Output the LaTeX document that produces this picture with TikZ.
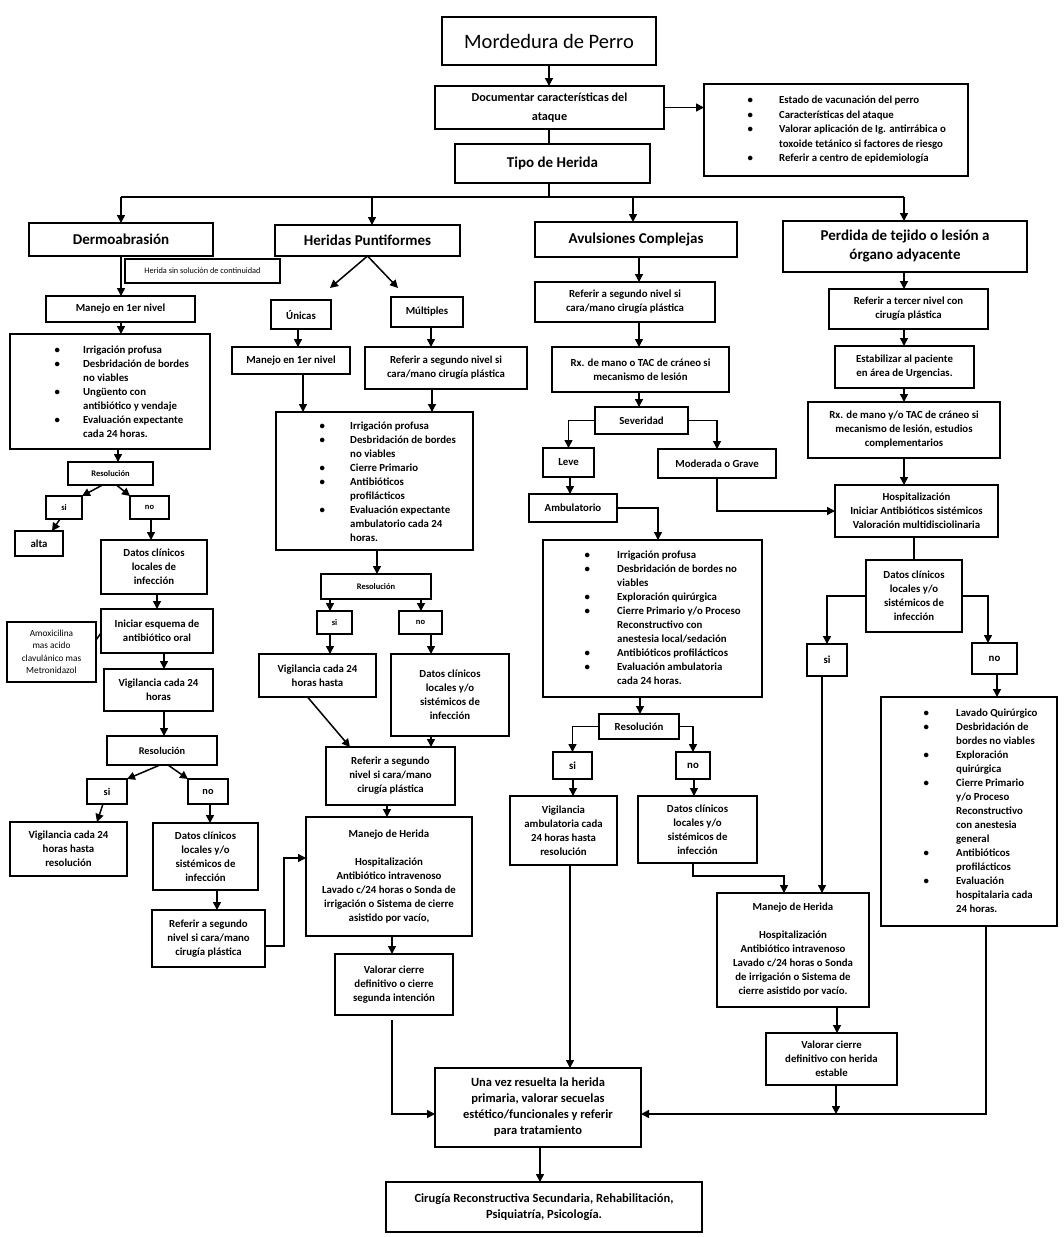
\documentclass[tikz,border=0pt]{standalone}
\usepackage{fontspec}
\setmainfont{Carlito}
\usetikzlibrary{arrows.meta}
\newcommand\fBody{\fontsize{10.8}{14}\selectfont\bfseries}
\newcommand\fHead{\fontsize{15}{19}\selectfont\bfseries}
\newcommand\fSmall{\fontsize{8.5}{11}\selectfont\bfseries}
\newcommand\fMid{\fontsize{10.3}{13}\selectfont\bfseries}
\newcommand\fTitle{\fontsize{20.5}{24}\selectfont}
\newcommand\fDoc{\fontsize{12.2}{19}\selectfont\bfseries}
\newcommand\fUna{\fontsize{12.5}{16}\selectfont\bfseries}
\newcommand\fInfo{\fontsize{10.8}{14.5}\selectfont\bfseries}
\newcommand\fTiny{\fontsize{8.3}{10}\selectfont}
\newcommand\fAmox{\fontsize{9.3}{12.5}\selectfont}
\newcommand\fFinal{\fontsize{12.5}{15.5}\selectfont\bfseries}
\newcommand\bItem[2]{\makebox[#1][l]{\textbullet}#2}
\newcommand\bCont[2]{\hspace*{#1}#2}
\newcommand\bx[7][]{\pgfmathsetmacro\bxw{#5-#3}\pgfmathsetmacro\bxh{#6-#4}%
  \node[box,#1,minimum width=\bxw pt,minimum height=\bxh pt] (#2) at ({(#3+#5)/2},{(#4+#6)/2}) {#7};}
\newcommand\vd[4][arr]{\coordinate (tx) at (#4,0); \draw[#1] (#2.south -| tx) -- (#3.north -| tx);}
\begin{document}
\begin{tikzpicture}[x=1pt,y=-1pt,
  box/.style={draw, line width=1.6pt, fill=white, inner sep=0pt, outer sep=0pt, align=center, font=\fBody},
  bl/.style={inner sep=0pt, align=left, font=\fBody, anchor=west},
  arr/.style={line width=1.5pt, -{Triangle[length=8pt,width=8pt]}},
  ln/.style={line width=1.5pt}]
\fill[white] (0,0) rectangle (1064,1237);
\useasboundingbox (0,0) rectangle (1064,1237);

% ---------- top ----------
\bx[font=\fTitle]{title}{442}{17}{656}{65}{Mordedura de Perro}
\bx[font=\fDoc]{doc}{435}{86}{664}{129}{Documentar características del\\ataque}
\bx{info}{704}{84}{968}{176}{}
\node[bl,font=\fInfo] (infot) at (747.5,130) {\bItem{31.5pt}{Estado de vacunación del perro}\\
\bItem{31.5pt}{Características del ataque}\\
\bItem{31.5pt}{Valorar aplicación de Ig. antirrábica o}\\
\bCont{31.5pt}{toxoide tetánico si factores de riesgo}\\
\bItem{31.5pt}{Referir a centro de epidemiología}};
\bx[font=\fHead]{tipo}{455}{144}{650}{183}{Tipo de Herida}

% ---------- column 1 ----------
\bx[font=\fHead]{dermo}{29}{223}{213}{256}{Dermoabrasión}
\bx[font=\fTiny]{hsin}{125}{259}{280}{283}{Herida sin solución de continuidad}
\bx{man1}{46}{296}{195}{322}{Manejo en 1er nivel}
\bx{b1}{10}{334}{210}{449}{}
\node[bl] (b1t) at (54.5,391.5) {\bItem{28.5pt}{Irrigación profusa}\\
\bItem{28.5pt}{Desbridación de bordes}\\
\bCont{28.5pt}{no viables}\\
\bItem{28.5pt}{Ungüento con}\\
\bCont{28.5pt}{antibiótico y vendaje}\\
\bItem{28.5pt}{Evaluación expectante}\\
\bCont{28.5pt}{cada 24 horas.}};
\bx[font=\fSmall]{res1}{68}{462}{153}{485}{Resolución}
\bx[font=\fSmall]{si1}{46}{496}{82}{519}{si}
\bx[font=\fSmall]{no1}{130}{496}{169}{519}{no}
\bx{alta}{15}{531}{63}{556}{alta}
\bx{dat1}{101}{540}{207}{594}{Datos clínicos\\locales de\\infección}
\bx{ini1}{101}{609}{213}{653}{Iniciar esquema de\\antibiótico oral}
\bx[font=\fAmox]{amox}{7}{622}{96}{682}{Amoxicilina\\mas acido\\clavulánico mas\\Metronidazol}
\bx{vig1}{104}{669}{213}{711}{Vigilancia cada 24\\horas}
\bx[font=\fMid]{res2}{107}{736}{217}{765}{Resolución}
\bx[font=\fMid]{si2}{87}{779}{127}{804}{si}
\bx[font=\fMid]{no2}{188}{779}{228}{804}{no}
\bx{vigh}{10}{822}{127}{876}{Vigilancia cada 24\\horas hasta\\resolución}
\bx{dat2}{153}{823}{258}{890}{Datos clínicos\\locales y/o\\sistémicos de\\infección}
\bx{ref1}{152}{910}{265}{967}{Referir a segundo\\nivel si cara/mano\\cirugía plástica}

% ---------- column 2 ----------
\bx[font=\fHead]{hp}{275}{225}{460}{256}{Heridas Puntiformes}
\bx{unicas}{271}{300}{331}{329}{Únicas}
\bx{mult}{391}{297}{463}{327}{Múltiples}
\bx{man2}{232}{347}{350}{374}{Manejo en 1er nivel}
\bx{ref2}{365}{347}{527}{389}{Referir a segundo nivel si\\cara/mano cirugía plástica}
\bx{b2}{276}{412}{473}{550}{}
\node[bl] (b2t) at (319.5,482) {\bItem{30.5pt}{Irrigación profusa}\\
\bItem{30.5pt}{Desbridación de bordes}\\
\bCont{30.5pt}{no viables}\\
\bItem{30.5pt}{Cierre Primario}\\
\bItem{30.5pt}{Antibióticos}\\
\bCont{30.5pt}{profilácticos}\\
\bItem{30.5pt}{Evaluación expectante}\\
\bCont{30.5pt}{ambulatorio cada 24}\\
\bCont{30.5pt}{horas.}};
\bx[font=\fSmall]{res3}{321}{574}{431}{599}{Resolución}
\bx[font=\fSmall]{si3}{317}{611}{352}{634}{si}
\bx[font=\fSmall]{no3}{399}{611}{442}{634}{no}
\bx{vig3}{259}{654}{376}{697}{Vigilancia cada 24\\horas hasta}
\bx{dat3}{391}{654}{509}{736}{Datos clínicos\\locales y/o\\sistémicos de\\infección}
\bx{ref3}{326}{747}{455}{805}{Referir a segundo\\nivel si cara/mano\\cirugía plástica}
\bx{mh1}{306}{817}{472}{936}{Manejo de Herida\\[14pt]Hospitalización\\Antibiótico intravenoso\\Lavado c/24 horas o Sonda de\\irrigación o Sistema de cierre\\asistido por vacío,}
\bx{val1}{335}{954}{453}{1015}{Valorar cierre\\definitivo o cierre\\segunda intención}

% ---------- column 3 ----------
\bx[font=\fHead]{av}{535}{222}{737}{257}{Avulsiones Complejas}
\bx{ref4}{535}{282}{715}{322}{Referir a segundo nivel si\\cara/mano cirugía plástica}
\bx{rx1}{552}{347}{729}{392}{Rx. de mano o TAC de cráneo si\\mecanismo de lesión}
\bx{sev}{595}{407}{688}{434}{Severidad}
\bx{leve}{543}{448}{594}{477}{Leve}
\bx{mod}{658}{449}{776}{478}{Moderada o Grave}
\bx{amb}{529}{494}{617}{522}{Ambulatorio}
\bx{b3}{543}{540}{762}{697}{}
\node[bl] (b3t) at (584.5,618) {\bItem{32.5pt}{Irrigación profusa}\\
\bItem{32.5pt}{Desbridación de bordes no}\\
\bCont{32.5pt}{viables}\\
\bItem{32.5pt}{Exploración quirúrgica}\\
\bItem{32.5pt}{Cierre Primario y/o Proceso}\\
\bCont{32.5pt}{Reconstructivo con}\\
\bCont{32.5pt}{anestesia local/sedación}\\
\bItem{32.5pt}{Antibióticos profilácticos}\\
\bItem{32.5pt}{Evaluación ambulatoria}\\
\bCont{32.5pt}{cada 24 horas.}};
\bx{res4}{599}{714}{679}{739}{Resolución}
\bx{si4}{553}{752}{592}{779}{si}
\bx{no4}{676}{752}{710}{779}{no}
\bx{vig4}{510}{796}{617}{865}{Vigilancia\\ambulatoria cada\\24 horas hasta\\resolución}
\bx{dat4}{638}{796}{757}{863}{Datos clínicos\\locales y/o\\sistémicos de\\infección}

% ---------- column 4 ----------
\bx[font=\fHead]{per}{783}{221}{1027}{272}{Perdida de tejido o lesión a\\órgano adyacente}
\bx{ref5}{829}{289}{988}{329}{Referir a tercer nivel con\\cirugía plástica}
\bx{est}{835}{346}{974}{388}{Estabilizar al paciente\\en área de Urgencias.}
\bx{rx2}{808}{402}{1000}{458}{Rx. de mano y/o TAC de cráneo si\\mecanismo de lesión, estudios\\complementarios}
\bx{hosp}{835}{485}{998}{537}{Hospitalización\\Iniciar Antibióticos sistémicos\\Valoración multidisciolinaria}
\bx{dat5}{866}{560}{962}{632}{Datos clínicos\\locales y/o\\sistémicos de\\infección}
\bx{si5}{807}{644}{847}{676}{si}
\bx{no5}{972}{643}{1017}{674}{no}
\bx{b5}{881}{697}{1057}{926}{}
\node[bl] (b5t) at (923.5,811) {\bItem{32.5pt}{Lavado Quirúrgico}\\
\bItem{32.5pt}{Desbridación de}\\
\bCont{32.5pt}{bordes no viables}\\
\bItem{32.5pt}{Exploración}\\
\bCont{32.5pt}{quirúrgica}\\
\bItem{32.5pt}{Cierre Primario}\\
\bCont{32.5pt}{y/o Proceso}\\
\bCont{32.5pt}{Reconstructivo}\\
\bCont{32.5pt}{con anestesia}\\
\bCont{32.5pt}{general}\\
\bItem{32.5pt}{Antibióticos}\\
\bCont{32.5pt}{profilácticos}\\
\bItem{32.5pt}{Evaluación}\\
\bCont{32.5pt}{hospitalaria cada}\\
\bCont{32.5pt}{24 horas.}};
\bx{mh2}{717}{893}{869}{1007}{Manejo de Herida\\[14pt]Hospitalización\\Antibiótico intravenoso\\Lavado c/24 horas o Sonda\\de irrigación o Sistema de\\cierre asistido por vacío.}
\bx{val2}{766}{1033}{897}{1085}{Valorar cierre\\definitivo con herida\\estable}

% ---------- bottom ----------
\bx[font=\fUna]{unavez}{435}{1068}{641}{1147}{Una vez resuelta la herida\\primaria, valorar secuelas\\estético/funcionales y referir\\para tratamiento}
\bx[font=\fFinal]{final}{386}{1182}{702}{1232}{Cirugía Reconstructiva Secundaria, Rehabilitación,\\Psiquiatría, Psicología.}

% ---------- connectors: top ----------
\vd{title}{doc}{549}
\draw[arr] (doc.east) -- (doc.east -| info.west);
\vd[ln]{doc}{tipo}{549}
\coordinate (busM) at (549,197);
\coordinate (busL) at (121,197);
\coordinate (busR) at (904,197);
\coordinate (bus2) at (372,197);
\coordinate (bus3) at (633,197);
\draw[ln] (tipo.south -| busM) -- (busM);
\draw[ln] (busL) -- (busR);
\draw[arr] (busL) -- (busL |- dermo.north);
\draw[arr] (bus2) -- (bus2 |- hp.north);
\draw[arr] (bus3) -- (bus3 |- av.north);
\draw[arr] (busR) -- (busR |- per.north);

% ---------- connectors: column 1 ----------
\vd{dermo}{man1}{121}
\vd{man1}{b1}{121}
\vd{b1}{res1}{118}
\draw[arr] ([xshift=-8pt]res1.south) -- (si1.north east);
\draw[arr] ([xshift=6pt]res1.south) -- (no1.north west);
\draw[arr] ([xshift=-4pt]si1.south) -- ([xshift=-11pt]alta.north east);
\vd{no1}{dat1}{151}
\vd{dat1}{ini1}{157}
\draw[ln] ([yshift=12pt]amox.east) -- ([yshift=-2pt]ini1.west);
\vd{ini1}{vig1}{164}
\vd{vig1}{res2}{164}
\draw[arr] ([xshift=-2pt]res2.south) -- (si2.north east);
\draw[arr] ([xshift=6pt]res2.south) -- (no2.north west);
\draw[arr] ([xshift=-4pt]si2.south) -- ([xshift=-30pt]vigh.north east);
\vd{no2}{dat2}{210}
\vd{dat2}{ref1}{217}
\coordinate (k1) at (284,946);
\coordinate (k2) at (284,858);
\draw[arr] (ref1.east |- k1) -- (k1) -- (k2) -- (k2 -| mh1.west);

% ---------- connectors: column 2 ----------
\coordinate (d1) at (330,288);
\coordinate (d2) at (398,288);
\draw[arr] (hp.south) -- (d1);
\draw[arr] (hp.south) -- (d2);
\vd{unicas}{man2}{298}
\vd{mult}{ref2}{431}
\vd{man2}{b2}{303}
\vd{ref2}{b2}{432}
\vd{b2}{res3}{377}
\vd{res3}{si3}{330}
\vd{res3}{no3}{421}
\vd{si3}{vig3}{330}
\vd{no3}{dat3}{431}
\draw[arr] ([xshift=-10pt]vig3.south) -- ([xshift=24pt]ref3.north west);
\vd{dat3}{ref3}{431}
\vd{ref3}{mh1}{387}
\vd{mh1}{val1}{392}
\coordinate (k3) at (392,1114);
\draw[arr, shorten <=5pt] (val1.south -| k3) -- (k3) -- (k3 -| unavez.west);

% ---------- connectors: column 3 ----------
\vd{av}{ref4}{639}
\vd{ref4}{rx1}{639}
\vd{rx1}{sev}{639}
\draw[arr] (sev.west) -| (leve.north);
\draw[arr] (sev.east) -| (mod.north);
\vd{leve}{amb}{570}
\coordinate (k9) at (658,0);
\draw[arr] (amb.east) -| (b3.north -| k9);
\draw[arr] (mod.south) |- (hosp.west);
\vd{b3}{res4}{640}
\draw[arr] (res4.west) -| (si4.north);
\draw[arr] (res4.east) -| (no4.north);
\vd{si4}{vig4}{573}
\vd{no4}{dat4}{694}
\vd{vig4}{unavez}{570}
\coordinate (k5) at (693,876);
\coordinate (k6) at (784,876);
\draw[arr] (dat4.south -| k5) -- (k5) -- (k6) -- (k6 |- mh2.north);

% ---------- connectors: column 4 ----------
\vd{per}{ref5}{904}
\vd{ref5}{est}{904}
\vd{est}{rx2}{904}
\vd{rx2}{hosp}{904}
\vd[ln]{hosp}{dat5}{914}
\draw[arr] (dat5.west) -| (si5.north);
\coordinate (k10) at (988,0);
\draw[arr] (dat5.east) -| (no5.north -| k10);
\vd{si5}{mh2}{822}
\vd{no5}{b5}{997}
\coordinate (k7) at (986,1114);
\draw[arr] (b5.south -| k7) -- (k7) -- (k7 -| unavez.east);
\vd{mh2}{val2}{837}
\coordinate (k8) at (836,1114);
\draw[arr] (val2.south -| k8) -- (k8);
\vd{unavez}{final}{540}
\end{tikzpicture}
\end{document}
